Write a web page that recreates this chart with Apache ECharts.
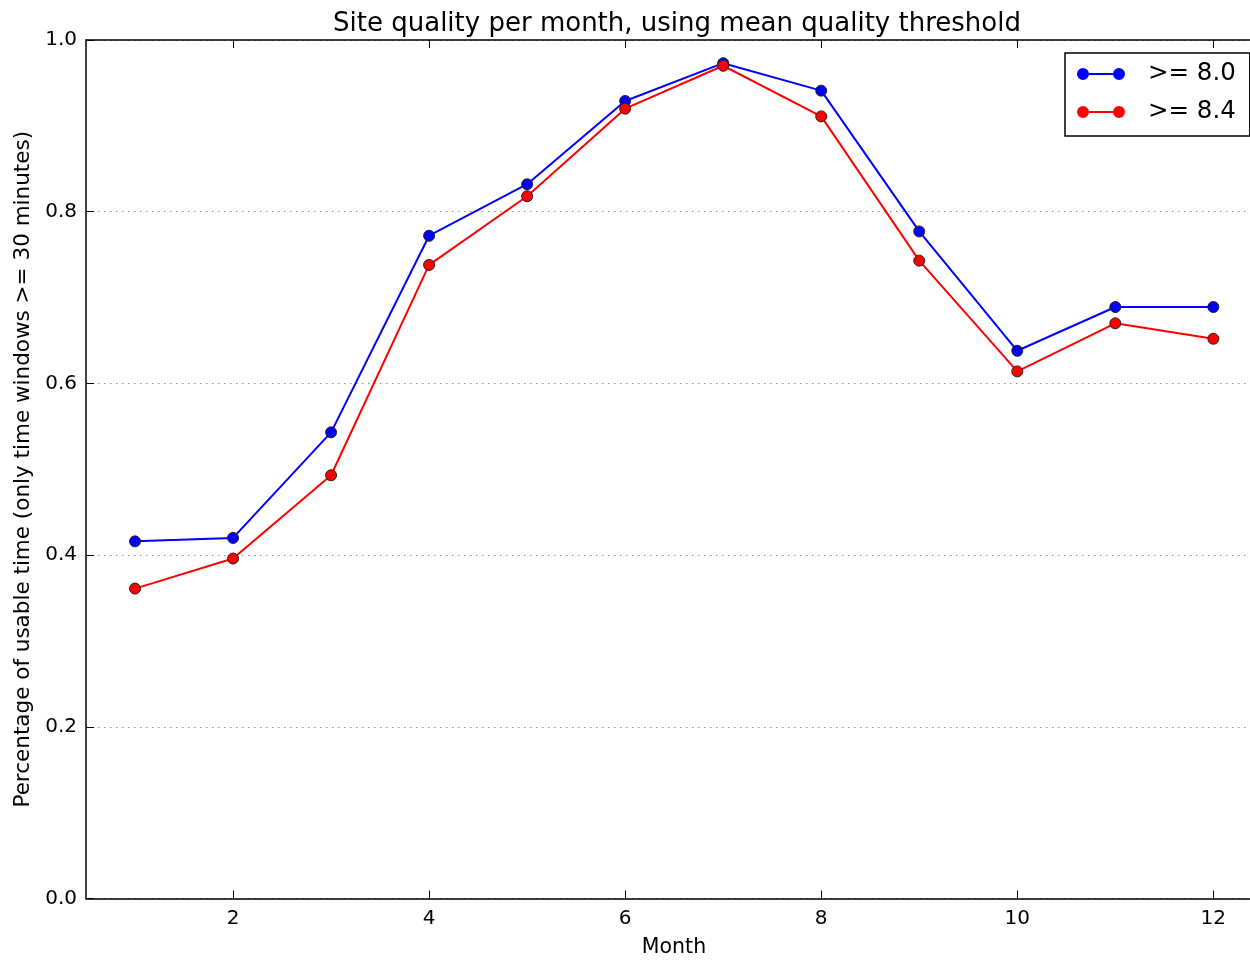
<!DOCTYPE html>
<html>
<head>
<meta charset="utf-8">
<title>Site quality per month</title>
<script src="https://cdn.jsdelivr.net/npm/echarts@6/dist/echarts.min.js"></script>
<style>
  html, body { margin: 0; padding: 0; background: #fff; overflow: hidden; }
  #chart { width: 1250px; height: 960px; }
</style>
</head>
<body>
<div id="chart"></div>
<script>
// Monthly share of usable observing time for two mean-quality thresholds
const months = [1, 2, 3, 4, 5, 6, 7, 8, 9, 10, 11, 12];
const usableAt80 = [0.416, 0.420, 0.543, 0.772, 0.832, 0.929, 0.973, 0.941, 0.777, 0.638, 0.689, 0.689];
const usableAt84 = [0.361, 0.396, 0.493, 0.738, 0.818, 0.920, 0.970, 0.911, 0.743, 0.614, 0.670, 0.652];
const monthTicks = [2, 4, 6, 8, 10, 12];
const seriesNames = ['>= 8.0', '>= 8.4'];

const FONT = 'DejaVu Sans';
const pairs = vals => months.map((m, i) => [m, vals[i]]);

// the month axis runs 0.5 .. 12.5; the page shows it up to about 12.37
const X_MIN = 0.5;
const X_MAX = 12.374;

// legend icon: short line with a marker at each end
const legendIcon = 'path://M0,6a6,6 0 1,0 12,0a6,6 0 1,0 -12,0Z M36,6a6,6 0 1,0 12,0a6,6 0 1,0 -12,0Z M12,5.1V6.9H36V5.1Z';

function lineSeries(name, vals, color) {
  return {
    name: name,
    type: 'line',
    data: pairs(vals),
    symbol: 'circle',
    symbolSize: 11,
    lineStyle: { color: color, width: 2 },
    itemStyle: { color: color, borderColor: '#222', borderWidth: 1 },
    emphasis: { disabled: true },
    z: 3
  };
}

const chart = echarts.init(document.getElementById('chart'), null, { renderer: 'canvas' });
chart.setOption({
  animation: false,
  backgroundColor: '#fff',
  title: {
    text: 'Site quality per month, using mean quality threshold',
    left: 672, textAlign: 'center', top: 6,
    textStyle: { fontFamily: FONT, fontSize: 26, fontWeight: 'normal', color: '#000' }
  },
  legend: {
    orient: 'vertical',
    left: 1065, top: 53,
    padding: [8, 14, 11, 12],
    itemGap: 12,
    itemWidth: 48, itemHeight: 12,
    icon: legendIcon,
    borderColor: '#000', borderWidth: 1.5, borderRadius: 0,
    backgroundColor: '#fff',
    itemStyle: { borderWidth: 0 },
    textStyle: { fontFamily: FONT, fontSize: 24.5, color: '#000', lineHeight: 26, padding: [0, 0, 0, 18] },
    data: seriesNames
  },
  grid: { left: 86, right: 0, top: 40, bottom: 61.5, containLabel: false, outerBoundsMode: 'none' },
  xAxis: [{
    type: 'value', min: X_MIN, max: X_MAX,
    name: 'Month', nameLocation: 'middle', nameGap: 39,
    nameTextStyle: { fontFamily: FONT, fontSize: 20.5, color: '#000', padding: [0, 0, 0, 12] },
    axisLine: { show: true, onZero: false, lineStyle: { color: '#000', width: 1.5 } },
    axisTick: { show: true, inside: true, length: 8, customValues: monthTicks, lineStyle: { color: '#000', width: 1 } },
    axisLabel: { customValues: monthTicks, margin: 10, fontFamily: FONT, fontSize: 20, color: '#000' },
    splitLine: { show: false }
  }, {
    type: 'value', min: X_MIN, max: X_MAX, position: 'top',
    axisLine: { show: true, onZero: false, lineStyle: { color: '#000', width: 1.5 } },
    axisTick: { show: true, inside: true, length: 8, customValues: monthTicks, lineStyle: { color: '#000', width: 1 } },
    axisLabel: { show: false },
    splitLine: { show: false }
  }],
  yAxis: {
    type: 'value', min: 0, max: 1, interval: 0.2,
    name: 'Percentage of usable time (only time windows >= 30 minutes)',
    nameLocation: 'middle', nameGap: 52,
    nameTextStyle: { fontFamily: FONT, fontSize: 21.5, color: '#000' },
    axisLine: { show: true, lineStyle: { color: '#000', width: 1.5 } },
    axisTick: { show: true, inside: true, length: 8, lineStyle: { color: '#000', width: 1 } },
    axisLabel: { margin: 9, fontFamily: FONT, fontSize: 20, color: '#000', formatter: v => v.toFixed(1) },
    splitLine: { show: true, lineStyle: { color: '#888', width: 1.2, type: [1.5, 4.5] } }
  },
  series: [
    lineSeries(seriesNames[0], usableAt80, '#0000ff'),
    lineSeries(seriesNames[1], usableAt84, '#ff0000')
  ]
});
</script>
</body>
</html>
